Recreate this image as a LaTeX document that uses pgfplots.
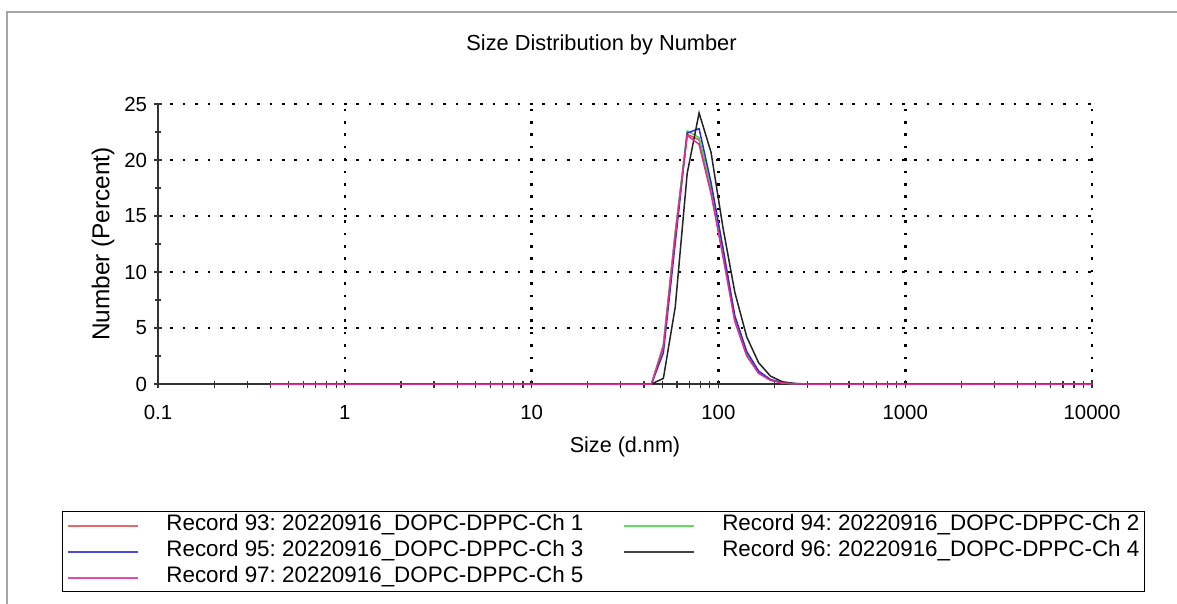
\documentclass[border=0pt]{standalone}
\usepackage{fontspec}
\setmainfont{Liberation Sans}
\usepackage{pgfplots}
\pgfplotsset{compat=1.18}
\definecolor{rec93}{RGB}{228,78,78}
\definecolor{rec94}{RGB}{70,215,70}
\definecolor{rec95}{RGB}{45,45,215}
\definecolor{rec96}{RGB}{35,35,35}
\definecolor{rec97}{RGB}{222,45,145}
\frenchspacing

\begin{document}
\begin{tikzpicture}[x=1pt,y=1pt]
\useasboundingbox (0,0) rectangle (588.5,-302);
\draw[black!35, line width=1pt] (3.5,-302) -- (3.5,-6) -- (588.5,-6);
\node[font=\fontsize{10.9}{13}\selectfont] at (300.75,-22.5) {Size Distribution by Number};
\begin{axis}[
 at={(79pt,-192pt)}, anchor=south west,
 scale only axis, width=467pt, height=140pt,
 xmode=log, xmin=0.1, xmax=10000, ymin=0, ymax=25,
 axis x line=bottom, axis y line=left,
 axis line style={-, line width=0.7pt, black!80},
 xtick={0.1,1,10,100,1000,10000},
 xticklabels={0.1,1,10,100,1000,10000},
 minor xtick={0.2,0.3,0.4,0.5,0.6,0.7,0.8,0.9,2,3,4,5,6,7,8,9,
   20,30,40,50,60,70,80,90,200,300,400,500,600,700,800,900,
   2000,3000,4000,5000,6000,7000,8000,9000},
 ytick={0,5,10,15,20,25},
 minor ytick={2.5,7.5,12.5,17.5,22.5},
 tick align=center, major tick length=4pt, minor tick length=3.5pt,
 tick style={black!80, line width=0.6pt},
 /pgf/number format/assume math mode=true,
 tick label style={font=\fontsize{10.2}{12}\selectfont},
 xticklabel style={yshift=-5pt},
 grid=major,
 major grid style={black, line width=1.3pt, dash pattern=on 1.3pt off 4.9pt},
 xlabel={Size (d.nm)},
 ylabel={Number (Percent)},
 xlabel style={font=\fontsize{10.8}{12}\selectfont, at={(axis description cs:0.5,-0.225)}, anchor=center},
 ylabel style={font=\fontsize{12.2}{14}\selectfont, at={(axis description cs:-0.0589,0.5)}, anchor=center},
 every axis plot/.append style={line width=0.75pt},
 legend columns=2,
 legend cell align=left,
 legend image code/.code={\draw[#1, line width=0.9pt, opacity=0.85] (0pt,0pt) -- (35pt,0pt);},
 legend style={at={(axis description cs:-0.1028,-0.4536)}, anchor=north west,
   draw=black, line width=0.6pt, inner xsep=2.5pt, inner ysep=1.5pt,
   font=\fontsize{11.2}{13}\selectfont,
   nodes={inner sep=0pt, text height=8pt, text depth=3pt},
   row sep=2pt,
   /tikz/every odd column/.append style={column sep=13.5pt},
   /tikz/every even column/.append style={column sep=20pt}},
]
\addplot[rec93] coordinates {(0.4,0) (43.82,0) (50.75,3.5) (58.77,13.6) (68.06,22.3) (78.82,21.8) (91.28,17.2) (105.7,11.7) (122.4,5.7) (141.8,2.6) (164.2,1.0) (190.1,0.35) (220.2,0.1) (255.0,0.02) (295.3,0) (10000,0)};
\addlegendentry{Record 93: 20220916\_DOPC-DPPC-Ch 1}
\addplot[rec94] coordinates {(0.4,0) (43.82,0) (50.75,3.4) (58.77,13.4) (68.06,22.6) (78.82,22.0) (91.28,17.6) (105.7,11.9) (122.4,5.9) (141.8,2.7) (164.2,1.05) (190.1,0.37) (220.2,0.1) (255.0,0.02) (295.3,0) (10000,0)};
\addlegendentry{Record 94: 20220916\_DOPC-DPPC-Ch 2}
\addplot[rec95] coordinates {(0.4,0) (43.82,0) (50.75,2.8) (58.77,12.6) (68.06,22.4) (78.82,22.8) (91.28,18.0) (105.7,12.2) (122.4,6.1) (141.8,2.9) (164.2,1.15) (190.1,0.4) (220.2,0.12) (255.0,0.03) (295.3,0) (10000,0)};
\addlegendentry{Record 95: 20220916\_DOPC-DPPC-Ch 3}
\addplot[rec96] coordinates {(0.4,0) (43.82,0) (50.75,0.5) (58.77,6.9) (68.06,18.8) (78.82,24.2) (91.28,20.7) (105.7,14.0) (122.4,8.2) (141.8,4.2) (164.2,1.9) (190.1,0.7) (220.2,0.2) (255.0,0.05) (295.3,0) (10000,0)};
\addlegendentry{Record 96: 20220916\_DOPC-DPPC-Ch 4}
\addplot[rec97] coordinates {(0.4,0) (43.82,0) (50.75,3.3) (58.77,13.3) (68.06,22.2) (78.82,21.4) (91.28,17.0) (105.7,11.4) (122.4,5.6) (141.8,2.5) (164.2,0.95) (190.1,0.33) (220.2,0.1) (255.0,0.02) (295.3,0) (10000,0)};
\addlegendentry{Record 97: 20220916\_DOPC-DPPC-Ch 5}
\end{axis}
\end{tikzpicture}
\end{document}
